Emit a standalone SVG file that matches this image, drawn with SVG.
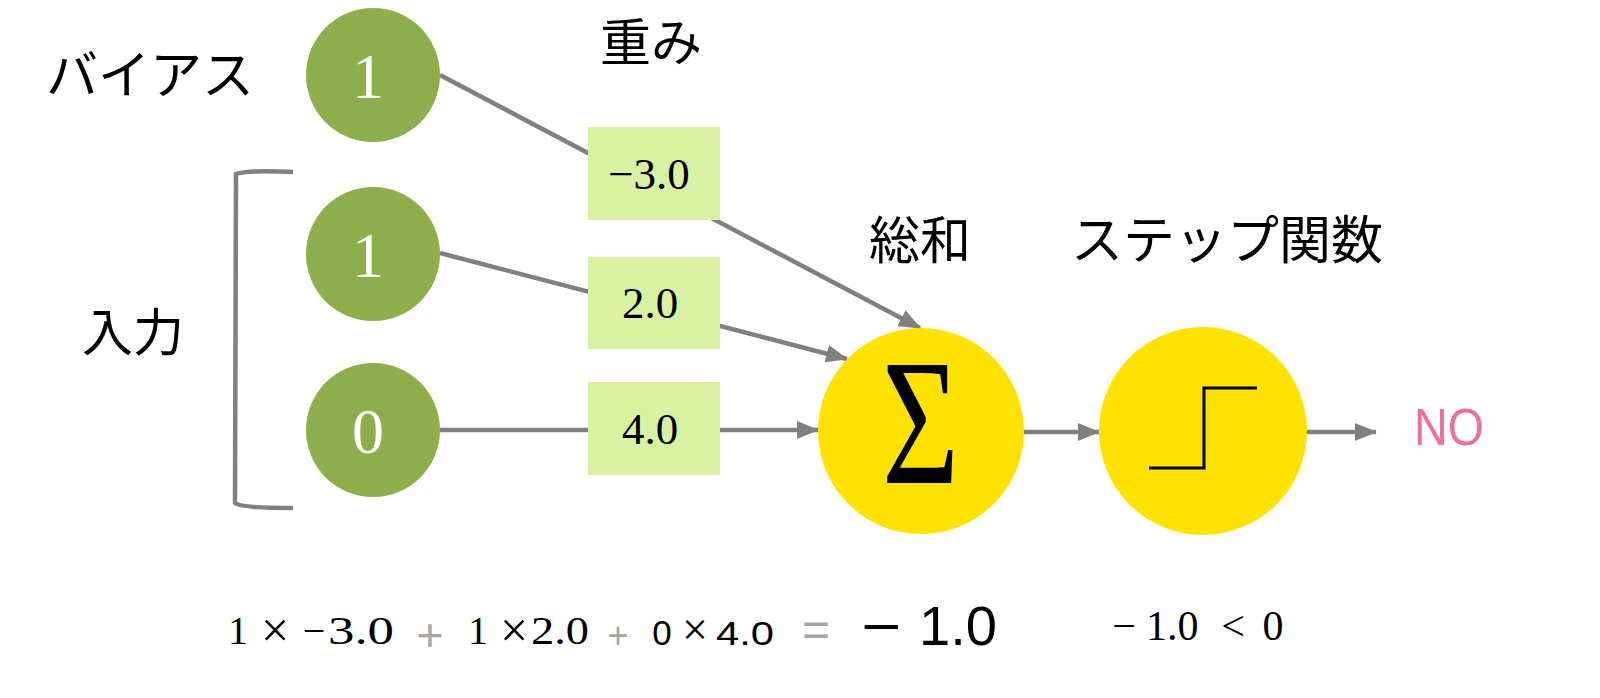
<svg xmlns="http://www.w3.org/2000/svg" width="1600" height="698" viewBox="0 0 1600 698">
<style>
.jp{font-family:"Noto Sans CJK JP","Noto Sans",sans-serif;fill:#000}
.num{font-family:"Liberation Serif","Times New Roman",serif;fill:#fff;text-anchor:middle}
.w{font-family:"Liberation Serif","Times New Roman",serif;fill:#000;font-size:45px;text-anchor:middle}
.in{fill:#8CAF4B}
.box{fill:#D8F1A3}
.act{fill:#FFE200}
.conn{stroke:#808080;stroke-width:4.5;fill:none}
.ser{font-family:"Liberation Serif","Times New Roman",serif;fill:#000}
.sans{font-family:"Liberation Sans",Arial,sans-serif;fill:#000}
.gray{fill:#A6A6A6}
.mid{text-anchor:middle}
</style>
<defs>
<marker id="arr" markerUnits="userSpaceOnUse" markerWidth="22" markerHeight="18" refX="21" refY="9" orient="auto">
<path d="M0,0 L22,9 L0,18 z" fill="#808080"/>
</marker>
</defs>
<rect width="1600" height="698" fill="#fff"/>

<g id="connectors">
<line class="conn" x1="440" y1="75" x2="920" y2="328" marker-end="url(#arr)"/>
<line class="conn" x1="440" y1="253" x2="847" y2="359" marker-end="url(#arr)"/>
<line class="conn" x1="440" y1="430" x2="818" y2="430" marker-end="url(#arr)"/>
<line class="conn" x1="1024" y1="432" x2="1099" y2="432" marker-end="url(#arr)"/>
<line class="conn" x1="1306" y1="432" x2="1376" y2="432" marker-end="url(#arr)"/>
<path class="conn" d="M293,172 Q248,170 236,174 L235,503 Q240,508 293,508"/>
</g>

<g id="label-bias"><text class="jp" x="46" y="94" font-size="52">バイアス</text></g>
<g id="label-input"><text class="jp" x="82" y="351" font-size="51">入力</text></g>
<g id="label-weight"><text class="jp" x="600" y="61" font-size="51">重み</text></g>
<g id="label-sum"><text class="jp" x="869" y="259" font-size="51">総和</text></g>
<g id="label-step"><text class="jp" x="1071" y="259" font-size="52">ステップ関数</text></g>

<g id="node-bias">
<circle class="in" cx="373" cy="75" r="67"/>
<text class="num" x="368" y="98" font-size="64">1</text>
</g>
<g id="node-x1">
<circle class="in" cx="373" cy="254" r="67"/>
<text class="num" x="368" y="277" font-size="64">1</text>
</g>
<g id="node-x2">
<circle class="in" cx="373" cy="430" r="67"/>
<text class="num" x="368" y="453" font-size="64">0</text>
</g>

<g id="weight-bias">
<rect class="box" x="588" y="127" width="132" height="93"/>
<text class="w" x="649" y="189">−3.0</text>
</g>
<g id="weight-x1">
<rect class="box" x="588" y="257" width="132" height="92"/>
<text class="w" x="650" y="318">2.0</text>
</g>
<g id="weight-x2">
<rect class="box" x="588" y="382" width="132" height="93"/>
<text class="w" x="650" y="444">4.0</text>
</g>

<g id="node-sum">
<circle class="act" cx="921" cy="431" r="103"/>
<text class="ser" x="882" y="483" font-size="180" textLength="77" lengthAdjust="spacingAndGlyphs">Σ</text>
</g>
<g id="node-step">
<circle class="act" cx="1203" cy="431" r="104"/>
<polyline points="1149,468 1204,468 1204,388 1257,388" fill="none" stroke="#000" stroke-width="3"/>
</g>
<g id="output">
<text class="sans" x="1414" y="445" font-size="52" style="fill:#EE7093" textLength="70" lengthAdjust="spacingAndGlyphs">NO</text>
</g>

<g id="formula">
<text class="ser mid" x="238" y="644" font-size="40">1</text>
<text class="ser mid" x="275" y="647" font-size="50">×</text>
<text class="ser mid" x="314" y="644" font-size="40">−</text>
<text class="ser" x="328" y="644" font-size="40" textLength="66" lengthAdjust="spacingAndGlyphs">3.0</text>
<text class="sans mid gray" x="430" y="651" font-size="46">+</text>
<text class="ser mid" x="478" y="644" font-size="40">1</text>
<text class="ser mid" x="514" y="647" font-size="50">×</text>
<text class="ser" x="531" y="644" font-size="40" textLength="58" lengthAdjust="spacingAndGlyphs">2.0</text>
<text class="sans mid gray" x="618" y="648" font-size="36">+</text>
<text class="sans mid" x="662" y="645" font-size="35">0</text>
<text class="ser mid" x="695" y="645" font-size="46">×</text>
<text class="sans" x="716" y="645" font-size="33" textLength="58" lengthAdjust="spacingAndGlyphs">4.0</text>
<text class="sans mid gray" x="816" y="646" font-size="48">=</text>
<text class="sans" x="861" y="645" font-size="55" textLength="40" lengthAdjust="spacingAndGlyphs">−</text>
<text class="sans" x="919" y="645" font-size="55" textLength="78" lengthAdjust="spacingAndGlyphs">1.0</text>
<text class="ser mid" x="1124" y="640" font-size="42">−</text>
<text class="ser" x="1146" y="640" font-size="42">1.0</text>
<text class="ser mid" x="1233" y="640" font-size="42">&lt;</text>
<text class="ser mid" x="1273" y="640" font-size="42">0</text>
</g>
</svg>
